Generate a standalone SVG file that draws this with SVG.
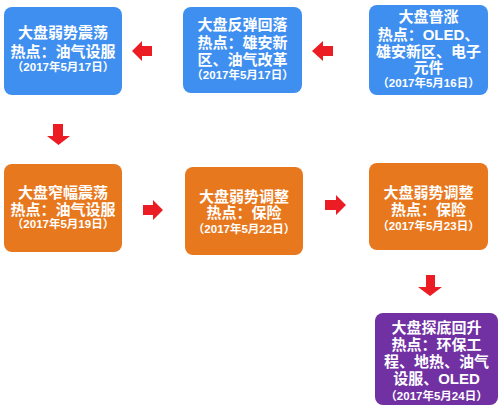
<svg xmlns="http://www.w3.org/2000/svg" width="503" height="408" viewBox="0 0 503 408">
<style>
.blue{fill:#3f8ff0}
.orange{fill:#e8781e}
.purple{fill:#7131a3}
.t{font-family:"Liberation Sans","Noto Sans CJK SC",sans-serif;font-weight:bold;fill:#fff;text-anchor:middle;font-size:15px}
.d{font-size:11.5px}
.arrow{fill:#ec1c24}
</style>
<rect width="503" height="408" fill="#fff"/>
<g id="n1">
<rect class="blue" x="4" y="7" width="118" height="88" rx="8"/>
<text class="t" x="63" y="38">大盘弱势震荡</text>
<text class="t" x="63" y="57">热点：油气设服</text>
<text class="t d" x="63" y="71">（2017年5月17日）</text>
</g>
<g id="n2">
<rect class="blue" x="183" y="7" width="119" height="86" rx="8"/>
<text class="t" x="242.5" y="30">大盘反弹回落</text>
<text class="t" x="242.5" y="48">热点：雄安新</text>
<text class="t" x="242.5" y="65">区、油气改革</text>
<text class="t d" x="242.5" y="79">（2017年5月17日）</text>
</g>
<g id="n3">
<rect class="blue" x="369" y="5" width="119" height="90" rx="8"/>
<text class="t" x="428.5" y="22">大盘普涨</text>
<text class="t" x="428.5" y="40">热点：OLED、</text>
<text class="t" x="428.5" y="57">雄安新区、电子</text>
<text class="t" x="428.5" y="73">元件</text>
<text class="t d" x="428.5" y="87">（2017年5月16日）</text>
</g>
<g id="n4">
<rect class="orange" x="4" y="164" width="118" height="88" rx="8"/>
<text class="t" x="63" y="198">大盘窄幅震荡</text>
<text class="t" x="63" y="215">热点：油气设服</text>
<text class="t d" x="63" y="228">（2017年5月19日）</text>
</g>
<g id="n5">
<rect class="orange" x="185" y="167" width="118" height="88" rx="8"/>
<text class="t" x="244" y="202">大盘弱势调整</text>
<text class="t" x="244" y="218">热点：保险</text>
<text class="t d" x="244" y="233">（2017年5月22日）</text>
</g>
<g id="n6">
<rect class="orange" x="369" y="163" width="119" height="87" rx="8"/>
<text class="t" x="428.5" y="198">大盘弱势调整</text>
<text class="t" x="428.5" y="215">热点：保险</text>
<text class="t d" x="428.5" y="230">（2017年5月23日）</text>
</g>
<g id="n7">
<rect class="purple" x="375" y="313" width="123" height="92" rx="8"/>
<text class="t" x="436.5" y="333">大盘探底回升</text>
<text class="t" x="436.5" y="350">热点：环保工</text>
<text class="t" x="436.5" y="367">程、地热、油气</text>
<text class="t" x="436.5" y="384">设服、OLED</text>
<text class="t d" x="436.5" y="400">（2017年5月24日）</text>
</g>
<g id="connectors">
<polygon class="arrow" points="152,46 142,46 142,41 132,51 142,61 142,56 152,56"/>
<polygon class="arrow" points="333,46 323,46 323,41 312,51 323,61 323,56 333,56"/>
<polygon class="arrow" points="53,124 63,124 63,136 70,136 58.5,145 47,136 53,136"/>
<polygon class="arrow" points="143,205 153,205 153,200 163,210 153,220 153,215 143,215"/>
<polygon class="arrow" points="325,200 336,200 336,195 346,205 336,215 336,210 325,210"/>
<polygon class="arrow" points="426,275 435,275 435,287 442,287 430,296 418,287 426,287"/>
</g>
</svg>
